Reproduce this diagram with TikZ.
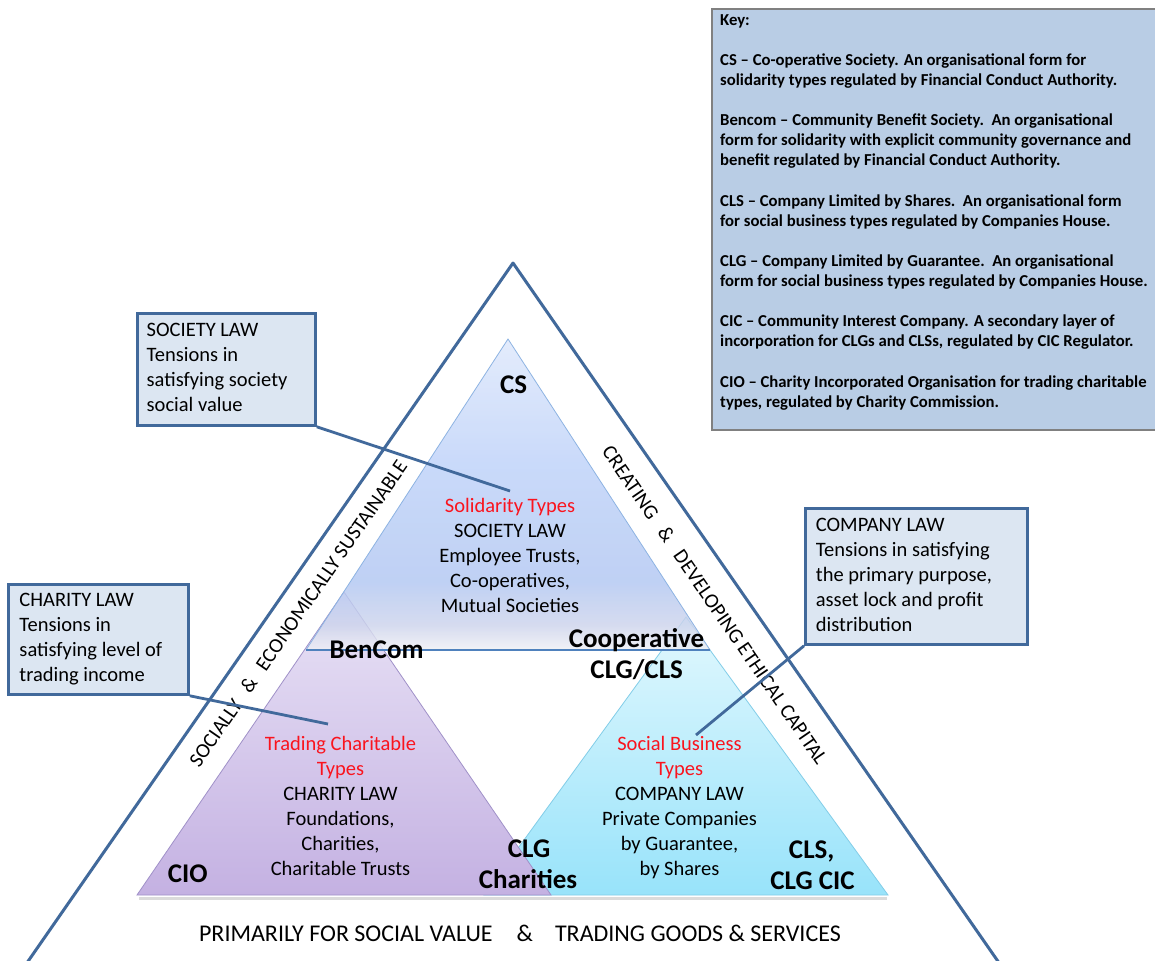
\documentclass[tikz,border=0pt]{standalone}
\usepackage{fontspec}
\setmainfont{Carlito}
\definecolor{lineblue}{RGB}{65,105,155}
\definecolor{callfill}{RGB}{220,230,242}
\definecolor{keyfill}{RGB}{185,205,229}
\definecolor{keyedge}{RGB}{128,128,128}
\definecolor{redtxt}{RGB}{250,20,30}
\definecolor{bB}{RGB}{240,240,245}
\definecolor{bB2}{RGB}{205,212,236}
\definecolor{bM}{RGB}{178,199,242}
\definecolor{bM2}{RGB}{190,210,249}
\definecolor{bT}{RGB}{222,232,252}
\definecolor{pT}{RGB}{233,227,246}
\definecolor{pB}{RGB}{196,177,226}
\definecolor{cT}{RGB}{226,248,254}
\definecolor{cB}{RGB}{152,227,250}
\definecolor{bEdge}{RGB}{141,179,226}
\definecolor{pEdge}{RGB}{160,145,200}
\definecolor{cEdge}{RGB}{130,205,232}
\definecolor{baseblue}{RGB}{79,129,189}
\pgfdeclareverticalshading{blueshade}{100bp}{color(0bp)=(bB); color(25bp)=(bB); color(29bp)=(bB2); color(36bp)=(bM); color(55bp)=(bM2); color(75bp)=(bT); color(100bp)=(bT)}
\newcommand{\tstrut}{\rule{0pt}{16.4pt}}
\newcommand{\kstrut}{\rule{0pt}{13.4pt}}
\begin{document}
\begin{tikzpicture}[x=1pt,y=-1pt,
  outerline/.style={draw=lineblue, line width=3pt},
  conn/.style={draw=lineblue, line width=2.8pt},
  callbox/.style={draw=lineblue, fill=callfill, line width=2.8pt, anchor=north west, inner sep=0pt},
  body/.style={font=\fontsize{20.5}{25}\selectfont, inner sep=0pt},
  lbl/.style={font=\bfseries\fontsize{27}{31}\selectfont, inner sep=0pt, anchor=base},
  side/.style={font=\fontsize{20.6}{24}\selectfont, inner sep=0pt},
  keytext/.style={font=\bfseries\fontsize{16.7}{20.1}\selectfont, inner sep=0pt, align=left, anchor=north west},
]
\useasboundingbox (0,0) rectangle (1155,960);
\clip (0,0) rectangle (1155,960);
\fill[white] (0,0) rectangle (1155,960);

% key box
\node[draw=keyedge, fill=keyfill, line width=1.6pt, anchor=north west, inner sep=0pt,
      minimum width=470, minimum height=421] (keybox) at (711,8) {};
\node[keytext] (keyt) at (720,11.6) {\kstrut Key:\\[20.1pt]
CS – Co-operative Society. An organisational form for\\
solidarity types regulated by Financial Conduct Authority.\\[20.1pt]
Bencom – Community Benefit Society.\ \ An organisational\\
form for solidarity with explicit community governance and\\
benefit regulated by Financial Conduct Authority.\\[20.1pt]
CLS – Company Limited by Shares.\ \ An organisational form\\
for social business types regulated by Companies House.\\[20.1pt]
CLG – Company Limited by Guarantee.\ \ An organisational\\
form for social business types regulated by Companies House.\\[20.1pt]
CIC – Community Interest Company. A secondary layer of\\
incorporation for CLGs and CLSs, regulated by CIC Regulator.\\[20.1pt]
CIO – Charity Incorporated Organisation for trading charitable\\
types, regulated by Charity Commission.};

% outer triangle
\coordinate (apex) at (513,263);
\coordinate (obl) at (22,970);
\coordinate (obr) at (1004,970);
\draw[outerline, line join=round] (obl) -- (apex) -- (obr);

% triangle vertices
\coordinate (B1) at (508,339); \coordinate (B2) at (306,650); \coordinate (B3) at (710,650);
\coordinate (P1) at (344,592); \coordinate (P2) at (137,895); \coordinate (P3) at (551,895);
\coordinate (C1) at (686,617); \coordinate (C2) at (484,895); \coordinate (C3) at (888,895);

% shadows
\draw[black!35, line width=2.5pt, opacity=0.4] (139,898.5) -- (887,898.5);

% cyan
\shade[top color=cT, bottom color=cB] (C1) -- (C2) -- (C3) -- cycle;
\draw[cEdge, line width=0.8pt] (C1) -- (C2) -- (C3) -- cycle;
% purple
\shade[top color=pT, bottom color=pB] (P1) -- (P2) -- (P3) -- cycle;
\draw[pEdge, line width=0.8pt] (P1) -- (P2) -- (P3) -- cycle;
% blue
\shade[shading=blueshade, fill opacity=0.82] (B1) -- (B2) -- (B3) -- cycle;
\draw[bEdge, line width=0.8pt] (B2) -- (B1) -- (B3);
\draw[baseblue, line width=1.3pt] (B2) -- (B3);

% side texts
\node[side, rotate=55.3] (lside) at (298,613.5) {SOCIALLY\hspace{13pt}\&\hspace{13pt}ECONOMICALLY SUSTAINABLE};
\node[side, rotate=-55.5] (rside) at (715,605) {CREATING\hspace{14pt}\&\hspace{14pt}DEVELOPING ETHICAL CAPITAL};
\node[font=\fontsize{24}{28}\selectfont, inner sep=0pt, anchor=base] (bottomt) at (520,941) {PRIMARILY FOR SOCIAL VALUE\hspace{24pt}\&\hspace{22pt}TRADING GOODS \& SERVICES};

% triangle texts
\node[body, align=center, anchor=north] (soltxt) at (510,496.3) {\tstrut{\color{redtxt}Solidarity Types}\\SOCIETY LAW\\Employee Trusts,\\Co-operatives,\\Mutual Societies};
\node[body, align=center, anchor=north] (chartxt) at (340.5,733.6) {\tstrut{\color{redtxt}Trading Charitable}\\{\color{redtxt}Types}\\CHARITY LAW\\Foundations,\\Charities,\\Charitable Trusts};
\node[body, align=center, anchor=north] (bustxt) at (679.5,733.6) {\tstrut{\color{redtxt}Social Business}\\{\color{redtxt}Types}\\COMPANY LAW\\Private Companies\\by Guarantee,\\by Shares};

% bold labels
\node[lbl] (cs) at (513.7,393) {CS};
\node[lbl] (bencom) at (376.5,658) {BenCom};
\node[lbl] (coop) at (636.5,647) {Cooperative};
\node[lbl] (clgcls) at (636.7,678.5) {CLG/CLS};
\node[lbl] (cio) at (187.7,882) {CIO};
\node[lbl] (clg) at (529,857) {CLG};
\node[lbl] (charities) at (528,888) {Charities};
\node[lbl] (cls) at (811.7,858) {CLS,};
\node[lbl] (clgcic) at (812.5,889) {CLG CIC};

% callout boxes
\node[callbox, minimum width=178, minimum height=112] (soc) at (136,312) {};
\node[callbox, minimum width=180, minimum height=110] (cha) at (7,583) {};
\node[callbox, minimum width=222, minimum height=136] (com) at (804,507) {};

\node[body, align=left, anchor=north west] (soct) at (146.5,320.3) {\tstrut SOCIETY LAW\\Tensions in\\satisfying society\\social value};
\node[body, align=left, anchor=north west] (chat) at (19.3,590.3) {\tstrut CHARITY LAW\\Tensions in\\satisfying level of\\trading income};
\node[body, align=left, anchor=north west] (comt) at (815.7,515.3) {\tstrut COMPANY LAW\\Tensions in satisfying\\the primary purpose,\\asset lock and profit\\distribution};

% connectors
\coordinate (socend) at (510,491);
\coordinate (chaend) at (328,724);
\coordinate (comend) at (696,735);
\draw[conn] (soc.south east) -- (socend);
\draw[conn] (cha.south east) -- (chaend);
\draw[conn] (com.south west) -- (comend);
\end{tikzpicture}
\end{document}
